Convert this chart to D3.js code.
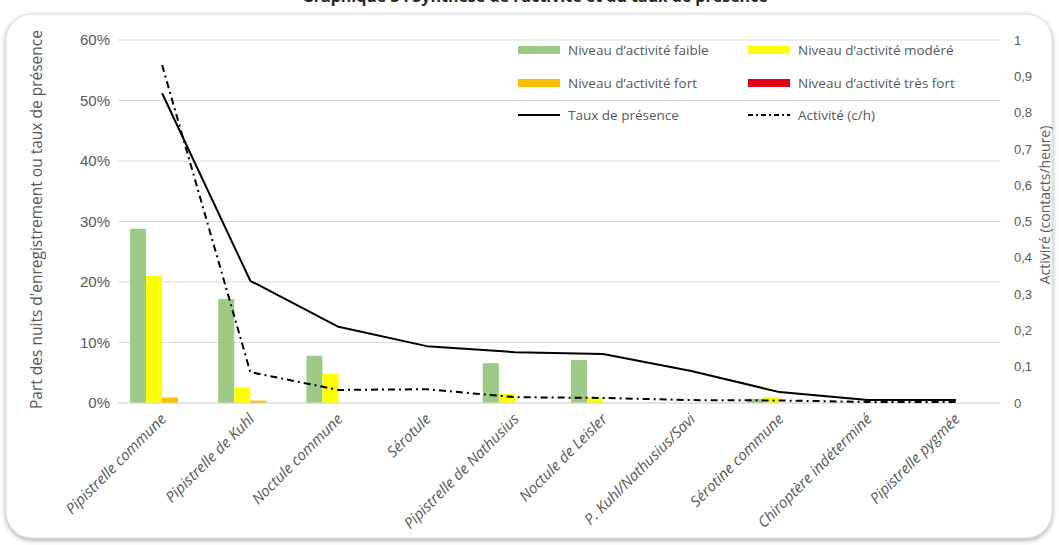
<!DOCTYPE html>
<html>
<head>
<meta charset="utf-8">
<script src="https://cdn.jsdelivr.net/npm/d3@7/dist/d3.min.js"></script>
<style>
  html, body { margin: 0; padding: 0; background: #fff; }
  svg { display: block; font-family: "Open Sans", "Liberation Sans", sans-serif; }
</style>
</head>
<body>
<svg id="chart" width="1059" height="545"></svg>
<script>
// Espèces contactées
const categories = [
  "Pipistrelle commune", "Pipistrelle de Kuhl", "Noctule commune", "Sérotule",
  "Pipistrelle de Nathusius", "Noctule de Leisler", "P. Kuhl/Nathusius/Savi",
  "Sérotine commune", "Chiroptère indéterminé", "Pipistrelle pygmée"
];
// Part des nuits d'enregistrement par niveau d'activité
const faible   = [0.288, 0.172, 0.078, 0, 0.066, 0.071, 0, 0.007, 0, 0];
const modere   = [0.210, 0.026, 0.048, 0, 0.015, 0.008, 0, 0.010, 0, 0];
const fort     = [0.009, 0.004, 0, 0, 0, 0, 0, 0, 0, 0];
const tresFort = [0, 0, 0, 0, 0, 0, 0, 0, 0, 0];
// Taux de présence (axe gauche)
const presence = [0.512, 0.202, 0.126, 0.094, 0.084, 0.081, 0.053, 0.018, 0.005, 0.005];
// Activité en contacts/heure (axe droit)
const activite = [0.931, 0.085, 0.036, 0.038, 0.016, 0.014, 0.008, 0.007, 0.003, 0.003];

const leftTicks  = [0, 0.1, 0.2, 0.3, 0.4, 0.5, 0.6];
const rightTicks = [0, 0.1, 0.2, 0.3, 0.4, 0.5, 0.6, 0.7, 0.8, 0.9, 1];

const seriesNames = ["Niveau d’activité faible", "Niveau d’activité modéré",
                     "Niveau d’activité fort", "Niveau d’activité très fort"];
const seriesColors = ["#9dcb86", "#ffff00", "#ffc000", "#e0001a"];
const series = [faible, modere, fort, tresFort];

const svg = d3.select("#chart");
const grey = "#595959";

// cadre arrondi avec ombre
const defs = svg.append("defs");
const f = defs.append("filter").attr("id", "shadow").attr("x", "-5%").attr("y", "-5%")
  .attr("width", "110%").attr("height", "115%");
f.append("feDropShadow").attr("dx", 0).attr("dy", 2).attr("stdDeviation", 2.5)
  .attr("flood-color", "#000").attr("flood-opacity", 0.35);
svg.append("rect").attr("x", 6).attr("y", 14).attr("width", 1046).attr("height", 524)
  .attr("rx", 26).attr("fill", "#fff").attr("stroke", "#d9d9d9").attr("stroke-width", 1)
  .attr("filter", "url(#shadow)");

// titre (coupé par le haut de la page)
svg.append("text").attr("x", 535).attr("y", 2).attr("text-anchor", "middle")
  .attr("font-size", 16).attr("font-weight", "bold").attr("fill", "#262626")
  .text("Graphique 3 : Synthèse de l’activité et du taux de présence");

const x0 = 118, x1 = 1000, yTop = 40, yBot = 403;
const x = d3.scaleBand().domain(categories).range([x0, x1]).paddingInner(0).paddingOuter(0);
const yL = d3.scaleLinear().domain([0, 0.6]).range([yBot, yTop]);
const yR = d3.scaleLinear().domain([0, 1]).range([yBot, yTop]);

// quadrillage
svg.append("g").selectAll("line").data(leftTicks).join("line")
  .attr("x1", x0).attr("x2", x1)
  .attr("y1", d => yL(d)).attr("y2", d => yL(d))
  .attr("stroke", "#d9d9d9").attr("stroke-width", 1);

// axe gauche
const axL = svg.append("g").attr("transform", `translate(${x0},0)`)
  .call(d3.axisLeft(yL).tickValues(leftTicks).tickFormat(d => Math.round(d * 100) + "%").tickSize(0).tickPadding(8));
axL.select(".domain").remove();
axL.selectAll("text").attr("fill", grey).attr("font-size", 15);

// axe droit
const axR = svg.append("g").attr("transform", `translate(${x1},0)`)
  .call(d3.axisRight(yR).tickValues(rightTicks)
    .tickFormat(d => d === 0 ? "0" : d === 1 ? "1" : d3.format(".1f")(d).replace(".", ","))
    .tickSize(0).tickPadding(14));
axR.select(".domain").remove();
axR.selectAll("text").attr("fill", grey).attr("font-size", 13);

// titres d'axes
svg.append("text").attr("transform", `translate(42,${(yTop + yBot) / 2 - 2}) rotate(-90)`)
  .attr("text-anchor", "middle").attr("font-size", 15.5).attr("fill", grey)
  .text("Part des nuits d'enregistrement ou taux de présence");
svg.append("text").attr("transform", `translate(1050,205) rotate(-90)`)
  .attr("text-anchor", "middle").attr("font-size", 14).attr("fill", grey)
  .text("Activiré (contacts/heure)");

// barres groupées
const inner = d3.scaleBand().domain(d3.range(4)).range([0, x.bandwidth()]).paddingOuter(0.75).paddingInner(0);
series.forEach((vals, si) => {
  svg.append("g").selectAll("rect").data(vals).join("rect")
    .attr("x", (d, i) => x(categories[i]) + inner(si))
    .attr("width", inner.bandwidth())
    .attr("y", d => yL(d))
    .attr("height", d => yBot - yL(d))
    .attr("fill", seriesColors[si]);
});

// axe horizontal
svg.append("line").attr("x1", x0).attr("x2", x1).attr("y1", yBot).attr("y2", yBot)
  .attr("stroke", "#d9d9d9");

const cx = c => x(c) + x.bandwidth() / 2;

// taux de présence
svg.append("path").datum(presence)
  .attr("d", d3.line().x((d, i) => cx(categories[i])).y(d => yL(d)))
  .attr("fill", "none").attr("stroke", "#000").attr("stroke-width", 2)
  .attr("stroke-linejoin", "round");

// activité
svg.append("path").datum(activite)
  .attr("d", d3.line().x((d, i) => cx(categories[i])).y(d => yR(d)))
  .attr("fill", "none").attr("stroke", "#000").attr("stroke-width", 2)
  .attr("stroke-dasharray", "7,4,2,4");

// étiquettes de catégories inclinées
svg.append("g").selectAll("text").data(categories).join("text")
  .attr("transform", d => `translate(${cx(d) + 5},${yBot + 17}) rotate(-45)`)
  .attr("text-anchor", "end").attr("font-size", 15).attr("fill", grey)
  .attr("font-style", "italic")
  .text(d => d);

// légende
const legend = [
  { name: seriesNames[0], type: "rect", color: seriesColors[0], x: 518, y: 50 },
  { name: seriesNames[1], type: "rect", color: seriesColors[1], x: 748, y: 50 },
  { name: seriesNames[2], type: "rect", color: seriesColors[2], x: 518, y: 83 },
  { name: seriesNames[3], type: "rect", color: seriesColors[3], x: 748, y: 83 },
  { name: "Taux de présence", type: "line", dash: null, x: 518, y: 115 },
  { name: "Activité (c/h)", type: "line", dash: "5,3,2,3", x: 748, y: 115 }
];
const lg = svg.append("g").selectAll("g").data(legend).join("g")
  .attr("transform", d => `translate(${d.x},${d.y})`);
lg.filter(d => d.type === "rect").append("rect")
  .attr("x", 0).attr("y", -4).attr("width", 42).attr("height", 8).attr("fill", d => d.color);
lg.filter(d => d.type === "line").append("line")
  .attr("x1", 0).attr("x2", 42).attr("y1", 0).attr("y2", 0)
  .attr("stroke", "#000").attr("stroke-width", 2)
  .attr("stroke-dasharray", d => d.dash);
lg.append("text").attr("x", 50).attr("y", 5).attr("font-size", 13.5).attr("fill", grey)
  .text(d => d.name);
</script>
</body>
</html>
